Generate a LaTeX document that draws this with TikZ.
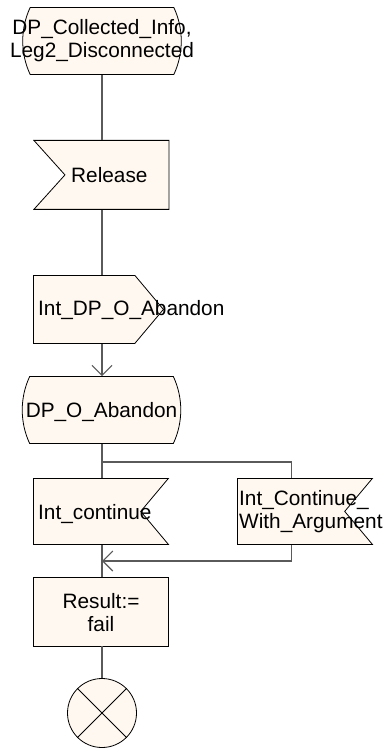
\documentclass[tikz,border=0pt]{standalone}
\usepackage{fontspec}
\setmainfont{Liberation Sans}
\usetikzlibrary{arrows.meta, shapes.misc, shapes.symbols, calc}
\definecolor{sdlfill}{RGB}{255, 248, 240}
\definecolor{sdlline}{RGB}{90, 90, 90}

\begin{document}
\begin{tikzpicture}[x=1pt, y=-1pt,
    shapebase/.style={draw=black, fill=sdlfill, line width=0.8pt, inner sep=0pt},
    state/.style={shapebase, rounded rectangle, rounded rectangle arc length=50, minimum width=137pt, minimum height=67pt},
    inputsig/.style={shapebase, signal, signal to=nowhere, signal from=west, signal pointer angle=96, minimum width=135pt, minimum height=69pt},
    outputsig/.style={shapebase, signal, signal to=east, signal from=nowhere, signal pointer angle=100, minimum width=130pt, minimum height=68pt},
    internalin/.style={shapebase, signal, signal to=nowhere, signal from=east, signal pointer angle=100, minimum width=135pt, minimum height=66pt},
    task/.style={shapebase, rectangle, minimum width=135pt, minimum height=69pt},
    stopsym/.style={shapebase, circle, minimum size=69pt},
    txt/.style={font=\fontsize{20.8}{23}\selectfont, inner sep=0pt},
    conn/.style={draw=sdlline, line width=1.1pt},
    arr/.style={conn, -{Straight Barb[length=10pt, width=20pt]}}
]
\path[use as bounding box, fill=white] (0,0) rectangle (389,751);

% SDL symbols
\node[state] (dpinfo) at (102,41) {};
\node[inputsig, anchor=north west] (release) at (33,140) {};
\node[outputsig, anchor=north west] (intabandon) at (33,275) {};
\node[state] (abandon) at (101.5,410) {};
\node[internalin, anchor=north west] (intcont) at (33,478) {};
\node[internalin, anchor=north west] (intcontarg) at (237,478) {};
\node[task] (result) at (100.5,611.5) {};
\node[stopsym] (stop) at (102,713) {};
\draw[line width=0.8pt] (stop.north west) -- (stop.south east) (stop.north east) -- (stop.south west);

% Texts
\node[txt, align=center] (dpinfoT) at (102,41) {DP\_Collected\_Info,\\Leg2\_Disconnected};
\node[txt, anchor=base west] (releaseT) at (71,183) {Release};
\node[txt, anchor=base west] (intabandonT) at (38,315) {Int\_DP\_O\_Abandon};
\node[txt, anchor=base] (abandonT) at (101.5,417) {DP\_O\_Abandon};
\node[txt, anchor=base west] (intcontT) at (38,519) {Int\_continue};
\node[txt, anchor=west, align=left] (intcontargT) at (239,512) {Int\_Continue\_\\With\_Argument};
\node[txt, align=center] (resultT) at (101,613) {Result:=\\fail};

% Flow lines
\coordinate (fork) at (102,462);
\coordinate (merge) at (102,561);
\draw[conn] (dpinfo.south) -- (release.north -| dpinfo.south);
\draw[conn] (release.south -| dpinfo.south) -- (intabandon.north -| dpinfo.south);
\draw[arr] (intabandon.south -| dpinfo.south) -- (abandon.north -| dpinfo.south);
\draw[conn] (abandon.south -| dpinfo.south) -- (intcont.north -| dpinfo.south);
\draw[conn] (fork) -| (intcontarg.north);
\draw[conn] (intcont.south -| dpinfo.south) -- (result.north -| dpinfo.south);
\draw[arr] (intcontarg.south) |- (merge);
\draw[conn] (result.south -| dpinfo.south) -- (stop.north);

\end{tikzpicture}
\end{document}
